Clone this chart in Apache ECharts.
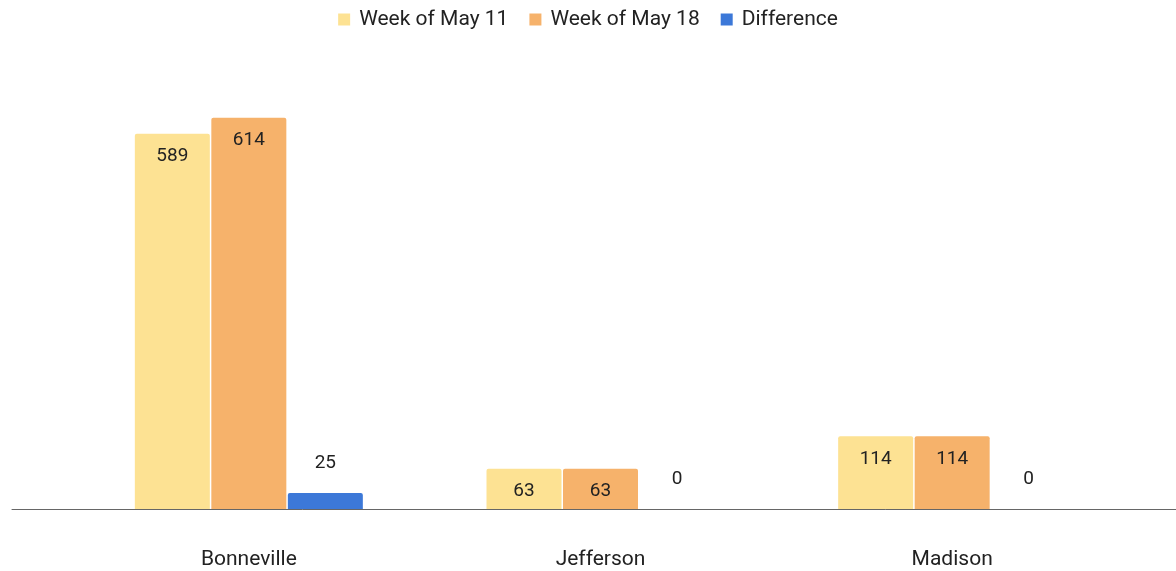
<!DOCTYPE html>
<html>
<head>
<meta charset="utf-8">
<script src="https://cdn.jsdelivr.net/npm/echarts@6/dist/echarts.min.js"></script>
<style>
  html, body { margin: 0; padding: 0; background: #ffffff; }
  #chart { width: 1176px; height: 571px; }
</style>
</head>
<body>
<div id="chart"></div>
<script>
// Counties compared across two weeks
const counties = ['Bonneville', 'Jefferson', 'Madison'];
const weekMay11 = [589, 63, 114];
const weekMay18 = [614, 63, 114];
const difference = [25, 0, 0];

const chart = echarts.init(document.getElementById('chart'));
const FONT = 'Roboto, "Noto Sans", Arial, sans-serif';

const insideLabel = {
  show: true,
  position: 'insideTop',
  distance: 13,
  color: '#222222',
  fontSize: 19,
  fontFamily: FONT
};

chart.setOption({
  animation: false,
  textStyle: { fontFamily: FONT },
  legend: {
    top: 4,
    left: 'center',
    itemWidth: 12,
    itemHeight: 12,
    itemGap: 21,
    icon: 'rect',
    textStyle: { fontSize: 21, color: '#222222', fontFamily: FONT, padding: [0, 0, 0, 4] },
    data: ['Week of May 11', 'Week of May 18', 'Difference']
  },
  grid: [
    { left: 73, right: 48, top: 63, bottom: 62 },
    { left: 12, right: 0, top: 63, bottom: 62 }
  ],
  xAxis: [
    {
      type: 'category',
      gridIndex: 0,
      data: counties,
      axisLine: { show: false },
      axisTick: { show: false },
      axisLabel: { margin: 40, fontSize: 21, color: '#222222', fontFamily: FONT }
    },
    {
      // full-width baseline
      type: 'category',
      gridIndex: 1,
      data: [''],
      axisLine: { show: true, lineStyle: { color: '#666666', width: 1 } },
      axisTick: { show: false },
      axisLabel: { show: false }
    }
  ],
  yAxis: [
    {
      type: 'value',
      gridIndex: 0,
      min: 0,
      max: 700,
      show: false,
      splitLine: { show: false }
    },
    {
      type: 'value',
      gridIndex: 1,
      min: 0,
      max: 700,
      show: false,
      splitLine: { show: false }
    }
  ],
  series: [
    {
      name: 'Week of May 11',
      type: 'bar',
      data: weekMay11,
      barWidth: 75,
      barGap: '2%',
      itemStyle: { color: '#fde293', borderRadius: [2, 2, 0, 0] },
      label: insideLabel
    },
    {
      name: 'Week of May 18',
      type: 'bar',
      data: weekMay18,
      barWidth: 75,
      barGap: '2%',
      itemStyle: { color: '#f6b26b', borderRadius: [2, 2, 0, 0] },
      label: insideLabel
    },
    {
      name: 'Difference',
      type: 'bar',
      data: difference,
      barWidth: 75,
      barGap: '2%',
      itemStyle: { color: '#3c78d8', borderRadius: [2, 2, 0, 0] },
      label: {
        show: true,
        position: 'top',
        distance: 20,
        color: '#222222',
        fontSize: 19,
        fontFamily: FONT
      }
    }
  ]
});
</script>
</body>
</html>
